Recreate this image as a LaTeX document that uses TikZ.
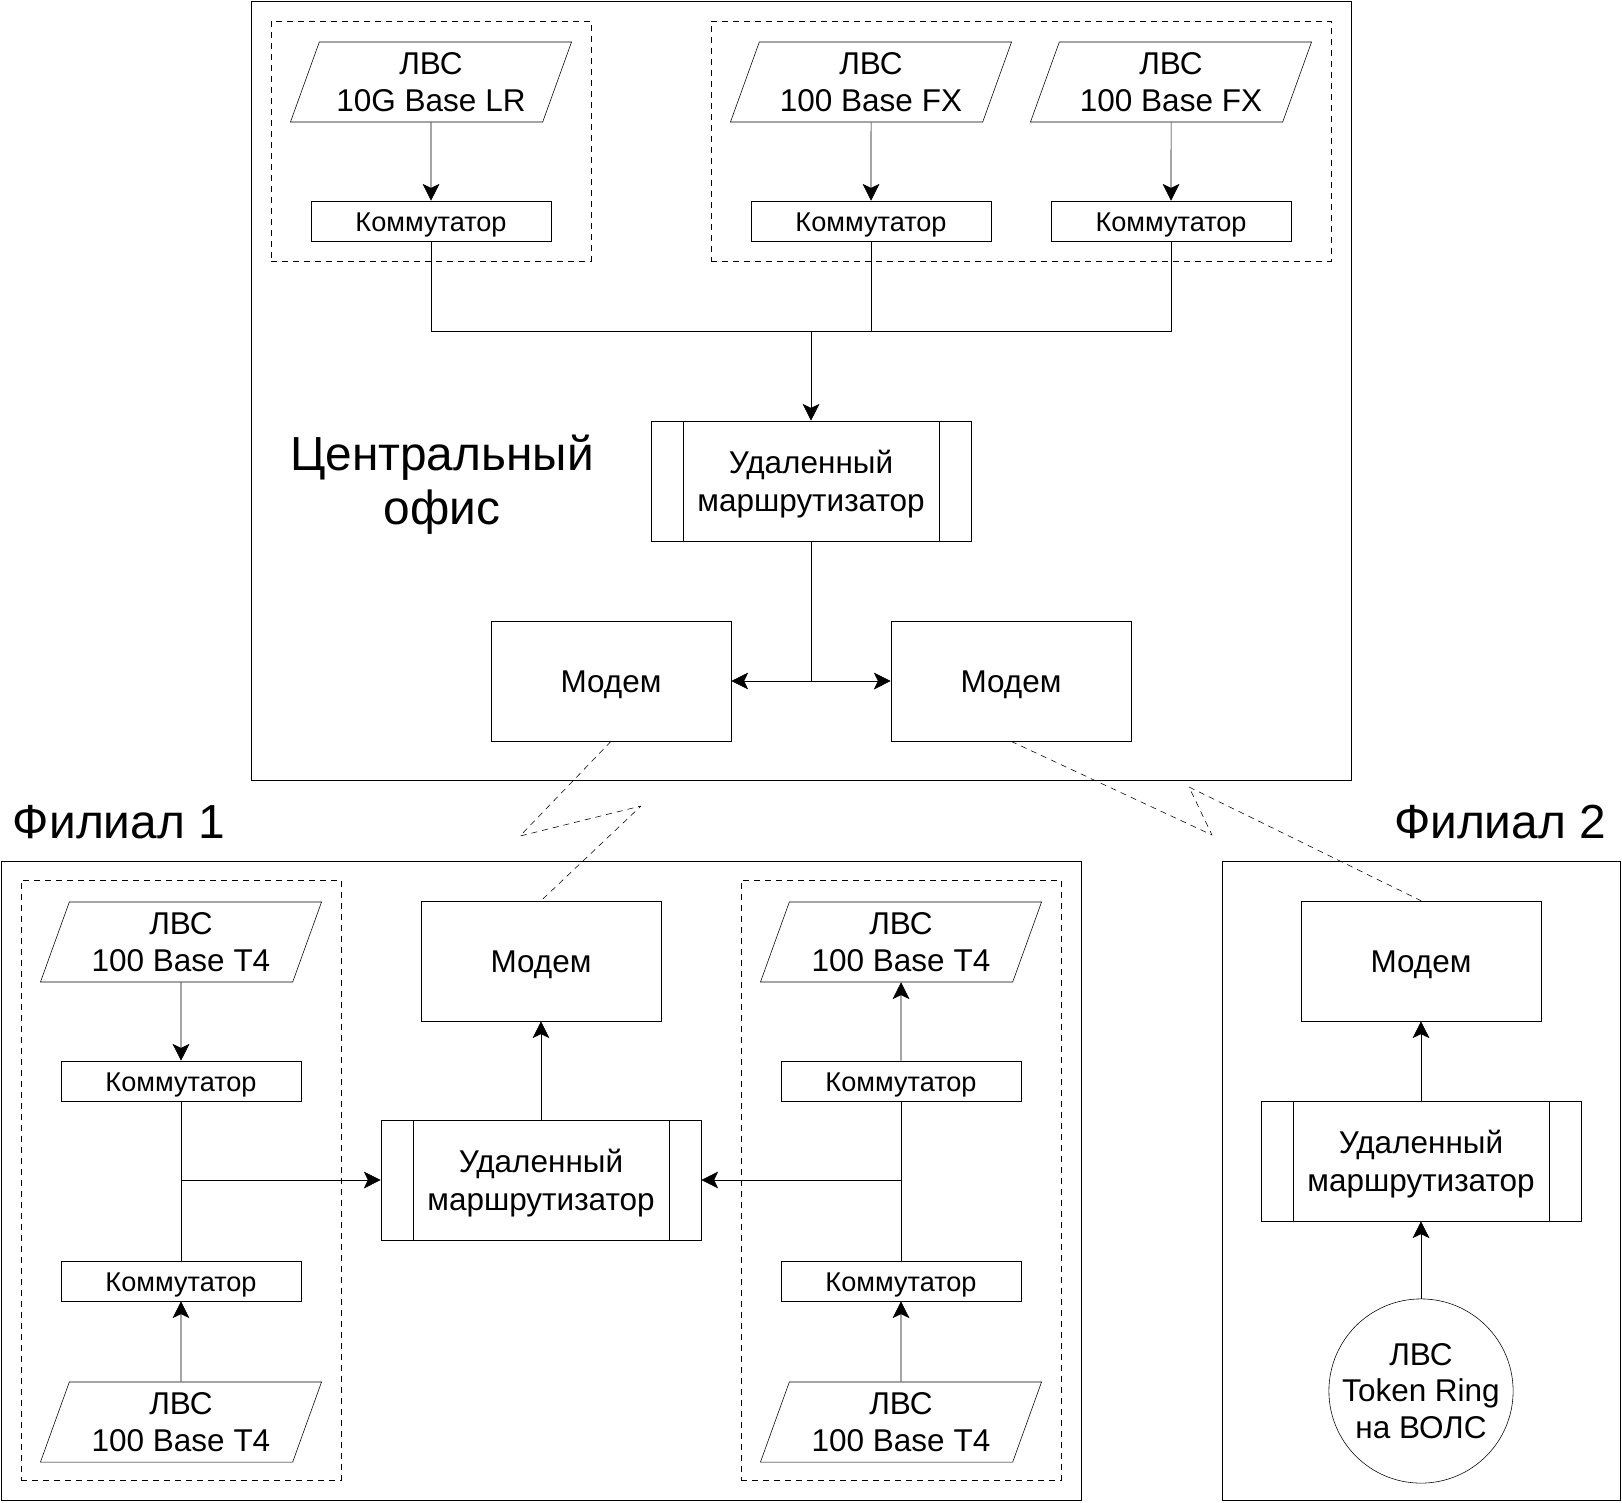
\documentclass[tikz,border=0pt]{standalone}
\usepackage{fontspec}
\setmainfont{Liberation Sans}
\usepackage{tikz}
\usetikzlibrary{arrows.meta,shapes.geometric}
\pgfdeclarelayer{nodelayer}
\pgfdeclarelayer{edgelayer}
\pgfsetlayers{edgelayer,nodelayer,main}
\tikzstyle{lan}=[draw=black, shape=trapezium, trapezium left angle=64, trapezium right angle=116, trapezium stretches body, minimum width=7.025cm, minimum height=2cm, inner sep=0pt, align=center, font=\fontsize{22.4}{26.2}\selectfont]
\tikzstyle{switch}=[draw=black, shape=rectangle, minimum width=6cm, minimum height=1cm, inner sep=0pt, font=\fontsize{19.3}{23}\selectfont, execute at begin node=\rule{0pt}{1em}]
\tikzstyle{modem}=[draw=black, shape=rectangle, minimum width=6cm, minimum height=3cm, inner sep=0pt, font=\fontsize{22.4}{26.2}\selectfont, execute at begin node=\rule{0pt}{0.95em}]
\tikzstyle{router}=[draw=black, shape=rectangle, minimum width=8cm, minimum height=3cm, inner sep=0pt, align=center, text depth=0pt, font=\fontsize{22.4}{26.9}\selectfont, path picture={\draw ([xshift=0.8cm]path picture bounding box.north west) -- ([xshift=0.8cm]path picture bounding box.south west); \draw ([xshift=-0.8cm]path picture bounding box.north east) -- ([xshift=-0.8cm]path picture bounding box.south east);}]
\tikzstyle{ring}=[draw=black, shape=circle, minimum size=4.55cm, inner sep=0pt, align=center, font=\fontsize{22.4}{26.2}\selectfont]
\tikzstyle{group}=[draw=black, dash pattern=on 0.15cm off 0.125cm, shape=rectangle, inner sep=0pt]
\tikzstyle{area}=[draw=black, shape=rectangle, inner sep=0pt]
\tikzstyle{caption}=[align=center, font=\fontsize{34}{38.3}\selectfont]
\tikzstyle{none}=[fill=none, draw=none, shape=circle, scale=0]
\tikzstyle{arrow}=[draw=black, ->]
\tikzstyle{twoway}=[draw=black, <->]
\tikzstyle{radio}=[draw=black, dash pattern=on 0.15cm off 0.125cm, line join=round]

\begin{document}
\begin{tikzpicture}[x=0.025cm, y=-0.025cm, line width=0.055cm, >={Stealth[length=0.42cm, width=0.42cm, inset=0.1cm]}]
	\useasboundingbox (0, 0) rectangle (1622, 1502);
	\begin{pgfonlayer}{nodelayer}
		% central office
		\node [style=area, minimum width=27.5cm, minimum height=19.475cm] (0) at (801, 390.5) {};
		\node [style=group, minimum width=8cm, minimum height=6cm] (1) at (431, 141) {};
		\node [style=group, minimum width=15.5cm, minimum height=6cm] (2) at (1021, 141) {};
		\node [style=lan] (3) at (431, 82) {ЛВС\\10G Base LR};
		\node [style=lan] (4) at (871, 82) {ЛВС\\100 Base FX};
		\node [style=lan] (5) at (1171, 82) {ЛВС\\100 Base FX};
		\node [style=switch] (6) at (431, 221) {Коммутатор};
		\node [style=switch] (7) at (871, 221) {Коммутатор};
		\node [style=switch] (8) at (1171, 221) {Коммутатор};
		\node [style=none] (9) at (811, 331) {};
		\node [style=router] (10) at (811, 481) {Удаленный\\маршрутизатор};
		\node [style=modem] (11) at (611, 681) {Модем};
		\node [style=modem] (12) at (1011, 681) {Модем};
		\node [style=caption] (13) at (442, 485) {Центральный\\офис};
		% branch 1
		\node [style=area, minimum width=27cm, minimum height=15.975cm] (14) at (541, 1180.5) {};
		\node [style=caption] (15) at (119, 822) {Филиал 1};
		\node [style=group, minimum width=8cm, minimum height=15cm] (16) at (181, 1180) {};
		\node [style=group, minimum width=8cm, minimum height=15cm] (17) at (901, 1180) {};
		\node [style=lan] (18) at (181, 942) {ЛВС\\100 Base T4};
		\node [style=switch] (19) at (181, 1081) {Коммутатор};
		\node [style=switch] (20) at (181, 1281) {Коммутатор};
		\node [style=lan] (21) at (181, 1422) {ЛВС\\100 Base T4};
		\node [style=none] (22) at (181, 1180) {};
		\node [style=router] (23) at (541, 1180) {Удаленный\\маршрутизатор};
		\node [style=modem] (24) at (541, 961) {Модем};
		\node [style=lan] (25) at (901, 942) {ЛВС\\100 Base T4};
		\node [style=switch] (26) at (901, 1081) {Коммутатор};
		\node [style=switch] (27) at (901, 1281) {Коммутатор};
		\node [style=lan] (28) at (901, 1422) {ЛВС\\100 Base T4};
		\node [style=none] (29) at (901, 1180) {};
		% branch 2
		\node [style=area, minimum width=9.95cm, minimum height=15.975cm] (30) at (1421, 1180.5) {};
		\node [style=caption] (31) at (1500, 822) {Филиал 2};
		\node [style=modem] (32) at (1421, 961) {Модем};
		\node [style=router] (33) at (1421, 1161) {Удаленный\\маршрутизатор};
		\node [style=ring] (34) at (1421, 1391) {ЛВС\\Token Ring\\на ВОЛС};
		% radio links
		\node [style=none] (35) at (520, 836) {};
		\node [style=none] (36) at (641, 806) {};
		\node [style=none] (37) at (1212, 835) {};
		\node [style=none] (38) at (1189, 787) {};
	\end{pgfonlayer}
	\begin{pgfonlayer}{edgelayer}
		\draw [style=arrow] (3) to (6);
		\draw [style=arrow] (4) to (7);
		\draw [style=arrow] (5) to (8);
		\draw (6.south) |- (9.center);
		\draw (9.center) -| (8.south);
		\draw (7.south) to (7.south |- 9.center);
		\draw [style=arrow] (9.center) to (10);
		\draw (10.south) to (10.south |- 11.center);
		\draw [style=twoway] (11) to (12);
		\draw [style=radio] (11.south) -- (35.center) -- (36.center) -- (24.north);
		\draw [style=radio] (12.south) -- (37.center) -- (38.center) -- (32.north);
		\draw [style=arrow] (18) to (19);
		\draw [style=arrow] (21) to (20);
		\draw (19) to (20);
		\draw [style=arrow] (22.center) to (23);
		\draw [style=arrow] (23) to (24);
		\draw [style=arrow] (26) to (25);
		\draw [style=arrow] (28) to (27);
		\draw (26) to (27);
		\draw [style=arrow] (29.center) to (23);
		\draw [style=arrow] (34) to (33);
		\draw [style=arrow] (33) to (32);
	\end{pgfonlayer}
\end{tikzpicture}
\end{document}
